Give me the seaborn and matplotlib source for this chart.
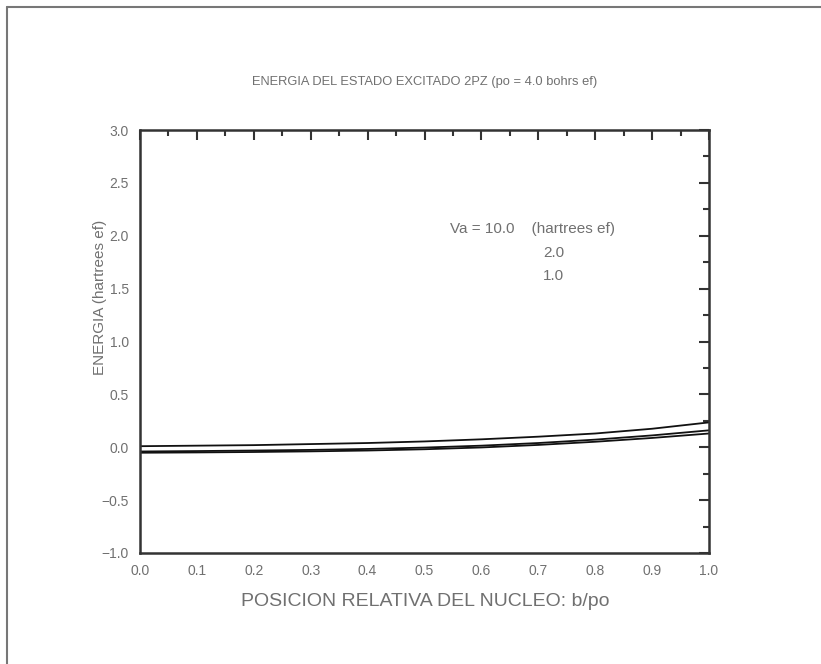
import matplotlib
matplotlib.use("Agg")
import matplotlib.pyplot as plt
from matplotlib.lines import Line2D
from matplotlib.ticker import MultipleLocator, FuncFormatter
import seaborn as sns
import pandas as pd

# ---- data ----
b_po = [0.0, 0.1, 0.2, 0.3, 0.4, 0.5, 0.6, 0.7, 0.8, 0.9, 1.0]
energy_va10 = [0.010, 0.015, 0.020, 0.030, 0.040, 0.055, 0.075, 0.100, 0.130, 0.175, 0.235]
energy_va2 = [-0.040, -0.036, -0.031, -0.025, -0.016, -0.003, 0.015, 0.040, 0.072, 0.112, 0.160]
energy_va1 = [-0.052, -0.049, -0.045, -0.039, -0.031, -0.019, -0.002, 0.022, 0.052, 0.088, 0.130]
va_labels = ["10.0", "2.0", "1.0"]

title = "ENERGIA DEL ESTADO EXCITADO 2PZ (po = 4.0 bohrs ef)"
xlabel = "POSICION RELATIVA DEL NUCLEO: b/po"
ylabel = "ENERGIA (hartrees ef)"

df = pd.concat([
    pd.DataFrame({"b": b_po, "E": energy_va10, "Va": va_labels[0]}),
    pd.DataFrame({"b": b_po, "E": energy_va2, "Va": va_labels[1]}),
    pd.DataFrame({"b": b_po, "E": energy_va1, "Va": va_labels[2]}),
])

sns.set_style("white")
FONT = ["Liberation Sans", "DejaVu Sans"]
plt.rcParams["font.family"] = FONT
TXT = "#707070"

fig = plt.figure(figsize=(8.21, 6.64), dpi=100)
ax = fig.add_axes([140 / 821, 1 - 553 / 664, (709 - 140) / 821, (553 - 130) / 664])

sns.lineplot(data=df, x="b", y="E", hue="Va", palette=["#111111"] * 3,
             linewidth=1.3, legend=False, ax=ax, sort=False)

ax.set_xlim(0, 1)
ax.set_ylim(-1, 3)
ax.xaxis.set_major_locator(MultipleLocator(0.1))
ax.xaxis.set_minor_locator(MultipleLocator(0.05))
ax.yaxis.set_major_locator(MultipleLocator(0.5))
ax.yaxis.set_minor_locator(MultipleLocator(0.25))
fmt = FuncFormatter(lambda v, p: f"{v:.1f}".replace("-", "\u2212"))
ax.xaxis.set_major_formatter(fmt)
ax.yaxis.set_major_formatter(fmt)
ax.tick_params(which="both", direction="in", top=True, right=True,
               colors="#333333", labelcolor=TXT, labelsize=10)
ax.tick_params(which="major", length=7, width=1.5, pad=8)
ax.tick_params(which="minor", length=4, width=1.5)
for s in ax.spines.values():
    s.set_color("#333333")
    s.set_linewidth(1.8)

ax.set_xlabel("")
ax.set_ylabel("")
fig.text(425 / 821, 1 - 601 / 664, xlabel, ha="center", va="center",
         fontsize=14, color=TXT)
fig.text(100 / 821, 1 - 297 / 664, ylabel, ha="center", va="center",
         rotation=90, fontsize=11, color=TXT)
fig.text(425 / 821, 1 - 82 / 664, title, ha="center", va="center",
         fontsize=9.3, color=TXT)

ax.text(0.545, 0.766, "Va = 10.0    (hartrees ef)", transform=ax.transAxes,
        ha="left", va="center", fontsize=11, color=TXT)
ax.text(0.727, 0.709, va_labels[1], transform=ax.transAxes,
        ha="center", va="center", fontsize=11, color=TXT)
ax.text(0.727, 0.654, va_labels[2], transform=ax.transAxes,
        ha="center", va="center", fontsize=11, color=TXT)

# outer frame (top and left edges)
fig.add_artist(Line2D([7 / 821, 1.0], [1 - 7 / 664, 1 - 7 / 664],
                      transform=fig.transFigure, color="#777777", lw=1.5))
fig.add_artist(Line2D([7 / 821, 7 / 821], [0.0, 1 - 7 / 664],
                      transform=fig.transFigure, color="#777777", lw=1.5))

fig.savefig("out.png", dpi=100)
